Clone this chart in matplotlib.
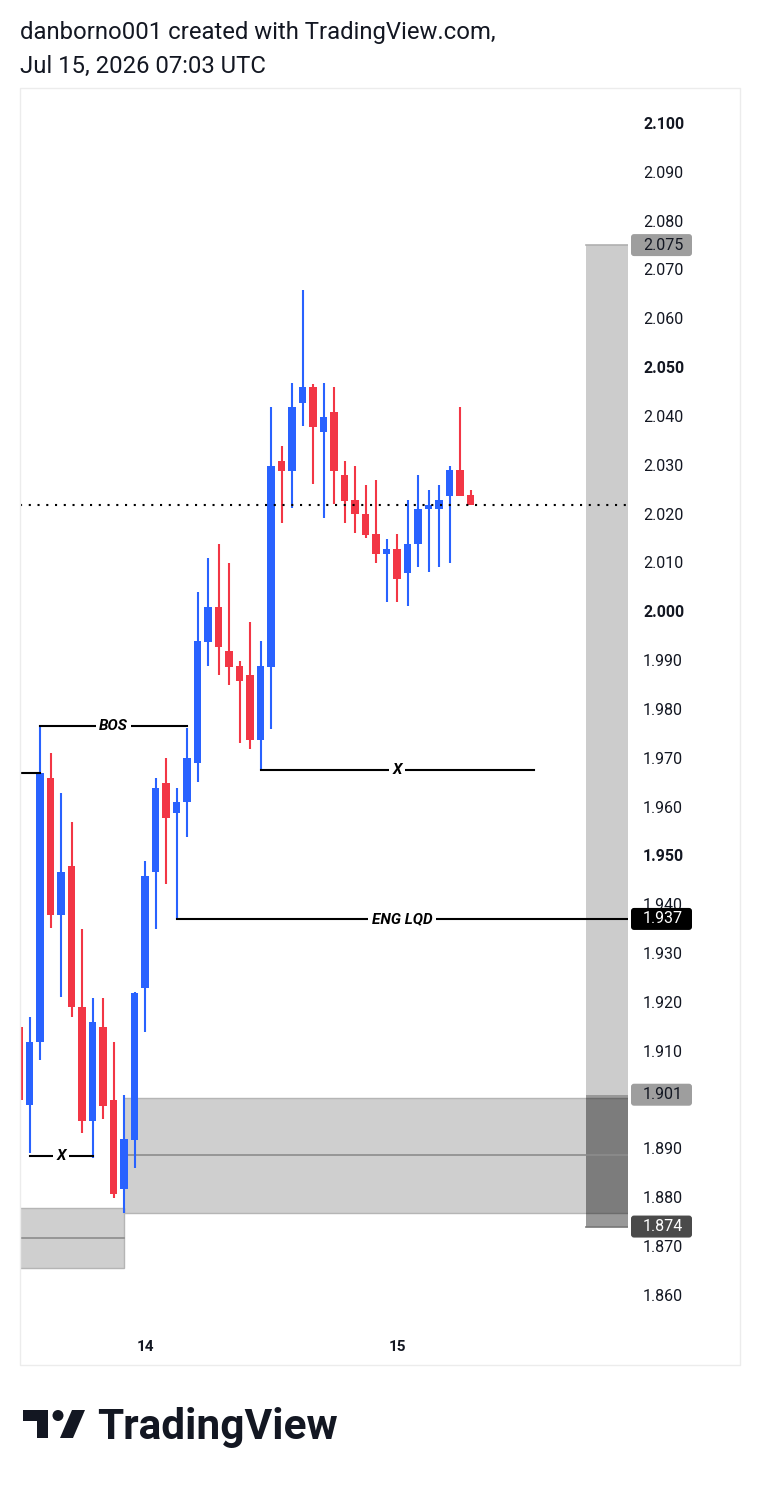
import matplotlib
matplotlib.use("Agg")
import matplotlib.pyplot as plt
from matplotlib.patches import Rectangle, FancyBboxPatch, Polygon, Circle
from matplotlib.transforms import IdentityTransform

plt.rcParams['font.family'] = ['Roboto', 'DejaVu Sans']

# ---------------- data ----------------
bar_idx = list(range(-12, 32))   # hourly bars, 0 = Jul 14 00:00
opens = [1.9149, 1.8989, 1.9118, 1.9659, 1.9378, 1.9478, 1.9190, 1.8956, 1.9149, 1.8999,
         1.8817, 1.8917, 1.9229, 1.9466, 1.9648, 1.9587, 1.9609, 1.9689, 1.9937, 2.0009,
         1.9919, 1.9888, 1.9870, 1.9736, 1.9886, 2.0308, 2.0287, 2.0427, 2.0459, 2.0367,
         2.0408, 2.0279, 2.0228, 2.0199, 2.0158, 2.0117, 2.0128, 2.0078, 2.0138, 2.0210,
         2.0210, 2.0236, 2.0289, 2.0238]
highs = [1.9160, 1.9169, 1.9768, 1.9710, 1.9628, 1.9569, 1.9349, 1.9208, 1.9208, 1.9118,
         1.9009, 1.9220, 1.9489, 1.9659, 1.9700, 1.9638, 1.9762, 2.0040, 2.0109, 2.0138,
         2.0099, 1.9898, 1.9978, 1.9939, 2.0418, 2.0339, 2.0468, 2.0658, 2.0466, 2.0468,
         2.0459, 2.0308, 2.0298, 2.0259, 2.0269, 2.0148, 2.0158, 2.0228, 2.0279, 2.0248,
         2.0259, 2.0298, 2.0418, 2.0248]
lows = [1.8990, 1.8891, 1.9081, 1.9351, 1.9210, 1.9169, 1.8932, 1.8880, 1.8960, 1.8799,
        1.8768, 1.8860, 1.9138, 1.9349, 1.9442, 1.9370, 1.9538, 1.9650, 1.9888, 1.9870,
        1.9849, 1.9730, 1.9718, 1.9675, 1.9759, 2.0181, 2.0212, 2.0380, 2.0261, 2.0191,
        2.0220, 2.0181, 2.0160, 2.0150, 2.0099, 2.0019, 2.0019, 2.0011, 2.0091, 2.0081,
        2.0091, 2.0099, 2.0236, 2.0218]
closes = [1.8999, 1.9118, 1.9669, 1.9378, 1.9466, 1.9190, 1.8956, 1.9159, 1.8987, 1.8807,
          1.8919, 1.9218, 1.9458, 1.9638, 1.9577, 1.9609, 1.9700, 1.9939, 2.0009, 1.9927,
          1.9886, 1.9857, 1.9736, 1.9888, 2.0298, 2.0287, 2.0418, 2.0459, 2.0377, 2.0398,
          2.0287, 2.0226, 2.0199, 2.0156, 2.0117, 2.0128, 2.0066, 2.0138, 2.0210, 2.0218,
          2.0228, 2.0289, 2.0236, 2.0218]

day_ticks = [0, 24]
day_labels = ['14', '15']
price_ticks = [2.100, 2.090, 2.080, 2.070, 2.060, 2.050, 2.040, 2.030, 2.020, 2.010,
               2.000, 1.990, 1.980, 1.970, 1.960, 1.950, 1.940, 1.930, 1.920, 1.910,
               1.900, 1.890, 1.880, 1.870, 1.860]
hidden_ticks = ['1.900']          # fully covered by the 1.901 badge
bold_ticks = ['2.100', '2.050', '2.000', '1.950']
last_price = 2.0218

# drawings
bos_level, bos_span = 1.9766, (-10, 4)
xtop_level, xtop_span = 1.9674, (11, 37)
xbot_level, xbot_span = 1.8885, (-11, -5)
eng_level, eng_start = 1.937, 3
stub_level, stub_span = 1.9669, (-13, -10)
zone_left = (1.8655, 1.8778, 1.8717)   # bottom, top, mid
zone_left_span = (-14, -2)
zone_main = (1.8768, 1.9003, 1.8887)
zone_main_span = (-2, 46)
pos_target, pos_entry, pos_stop = 2.075, 1.901, 1.874
pos_span = (42, 46)

UP = '#2962FF'
DOWN = '#F23645'
TXT = '#131722'

# ---------------- figure ----------------
W, H = 760, 1486
fig = plt.figure(figsize=(W / 100, H / 100), dpi=100)

def fx(px):
    return px / W

def fy(py):
    return 1 - py / H

ax = fig.add_axes([fx(20), fy(1325), (628 - 20) / W, (1325 - 88) / H])
ax.patch.set_visible(False)
ax.set_xlim(-11.905, 46.0)
ax.set_ylim(1.85384, 2.10717)
for s in ax.spines.values():
    s.set_visible(False)

# zones
def zone(span, lvl, fc):
    b, t, m = lvl
    ax.add_patch(Rectangle((span[0], b), span[1] - span[0], t - b,
                           facecolor=fc, edgecolor='#b5b5b5', lw=1.0, zorder=1))
    ax.plot(span, [m, m], color='#8c8c8c', lw=1.2, zorder=1.5)

zone(zone_left_span, zone_left, '#cfcfcf')
ax.add_patch(Rectangle((zone_main_span[0], zone_main[0]), zone_main_span[1] - zone_main_span[0],
                       zone_main[1] - zone_main[0], facecolor='black', alpha=0.19,
                       edgecolor='none', zorder=1))
ax.plot(zone_main_span, [zone_main[0]] * 2, color='#b5b5b5', lw=1.0, zorder=1)
ax.plot(zone_main_span, [zone_main[1]] * 2, color='#b5b5b5', lw=1.0, zorder=1)
ax.plot(zone_main_span, [zone_main[2]] * 2, color='#8c8c8c', lw=1.2, zorder=1.5)

# position tool
ax.add_patch(Rectangle((pos_span[0], pos_entry), pos_span[1] - pos_span[0], pos_target - pos_entry,
                       facecolor='#cccccc', edgecolor='none', zorder=1))
ax.plot(pos_span, [pos_target] * 2, color='#b0b0b0', lw=1.2, zorder=1.2)
ax.add_patch(Rectangle((pos_span[0], pos_stop), pos_span[1] - pos_span[0], pos_entry - pos_stop,
                       facecolor='black', alpha=0.4, edgecolor='none', zorder=1.1))
ax.plot(pos_span, [pos_stop] * 2, color='#777777', lw=1.2, zorder=1.2)

# candles
colors = [UP if c >= o else DOWN for o, c in zip(opens, closes)]
ax.vlines(bar_idx, lows, highs, colors=colors, lw=1.5, zorder=3)
bottoms = [min(o, c) for o, c in zip(opens, closes)]
heights = [max(abs(c - o), 0.0002) for o, c in zip(opens, closes)]
ax.bar(bar_idx, heights, bottom=bottoms, width=0.76, color=colors, zorder=3.5)

# last price dotted line
ax.plot([-11.905, 45.8], [last_price] * 2, color='black', lw=1.5,
        linestyle=(0, (1, 3.2)), zorder=4)

# lines with labels
lab_kw = dict(fontsize=11, fontweight='bold', fontstyle='italic', color='black',
              ha='center', va='center', zorder=6,
              bbox=dict(facecolor='white', edgecolor='none', pad=2.5))

def labeled_line(span, level, text):
    ax.plot(span, [level, level], color='black', lw=1.5, zorder=5)
    ax.text((span[0] + span[1]) / 2, level, text, **lab_kw)

labeled_line(bos_span, bos_level, 'BOS')
labeled_line(xtop_span, xtop_level, 'X')
labeled_line(xbot_span, xbot_level, 'X')
labeled_line((eng_start, 46), eng_level, 'ENG LQD')
ax.plot(stub_span, [stub_level] * 2, color='black', lw=1.5, zorder=5)

# axes ticks
ax.yaxis.tick_right()
tick_text = [f'{t:.3f}' for t in price_ticks]
ax.set_yticks(price_ticks, ['' if s in hidden_ticks else s for s in tick_text])
ax.tick_params(axis='y', length=0, pad=10.8, labelsize=11.5, labelcolor=TXT)
for lab in ax.get_yticklabels():
    if lab.get_text() in bold_ticks:
        lab.set_fontweight('bold')
ax.set_xticks(day_ticks, day_labels)
ax.tick_params(axis='x', length=0, pad=11, labelsize=11, labelcolor=TXT)
for lab in ax.get_xticklabels():
    lab.set_fontweight('bold')

# price badges
def badge(price, fc, tc):
    y = ax.transData.transform((0, price))[1]
    p = FancyBboxPatch((631, y - 11), 61, 22, boxstyle='round,pad=0,rounding_size=3',
                       transform=IdentityTransform(), facecolor=fc, edgecolor='none', zorder=10)
    fig.add_artist(p)
    fig.text(643, y, f'{price:.3f}', transform=IdentityTransform(), fontsize=11.5,
             color=tc, ha='left', va='center', zorder=11)

badge(pos_target, '#9e9e9e', TXT)
badge(eng_level, 'black', 'white')
badge(pos_entry, '#9e9e9e', TXT)
badge(pos_stop, '#4a4a4a', 'white')

# frame
fig.add_artist(Rectangle((20, H - 1365), 720, 1365 - 88, transform=IdentityTransform(),
                         facecolor='none', edgecolor='#ececec', lw=1.0, zorder=20))

# header
fig.text(fx(20), fy(32.5), 'danborno001 created with TradingView.com,', fontsize=17.2,
         color=TXT, ha='left', va='center')
fig.text(fx(20), fy(66.5), 'Jul 15, 2026 07:03 UTC', fontsize=17.2, color=TXT,
         ha='left', va='center')

# logo
def P(x, y):
    return (x, H - y)

fig.add_artist(Polygon([P(23, 1410), P(48, 1410), P(48, 1438), P(37, 1438), P(37, 1421), P(23, 1421)],
                       closed=True, transform=IdentityTransform(), facecolor='#131722', edgecolor='none'))
fig.add_artist(Circle(P(58, 1415.5), 5.5, transform=IdentityTransform(), facecolor='#131722',
                      edgecolor='none'))
fig.add_artist(Polygon([P(60, 1438), P(73, 1438), P(85, 1410), P(72, 1410)], closed=True,
                       transform=IdentityTransform(), facecolor='#131722', edgecolor='none'))
fig.text(fx(97), fy(1439), 'TradingView', fontsize=30.5, fontweight='bold', color='#131722',
         ha='left', va='baseline')

fig.savefig('out.png', dpi=100, facecolor='white')
